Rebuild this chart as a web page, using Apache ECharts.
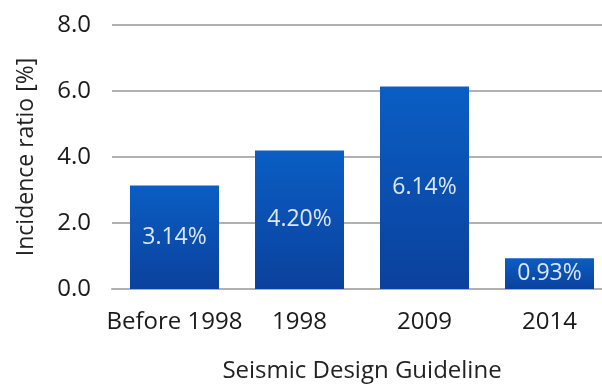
<!DOCTYPE html>
<html>
<head>
<meta charset="utf-8">
<script src="https://cdn.jsdelivr.net/npm/echarts@6/dist/echarts.min.js"></script>
<style>
  html, body { margin: 0; padding: 0; background: #fff; }
  #chart { width: 602px; height: 385px; }
</style>
</head>
<body>
<div id="chart"></div>
<script>
// Incidence ratio by seismic design guideline
const categories = ['Before 1998', '1998', '2009', '2014'];
const incidence = [3.14, 4.20, 6.14, 0.93];
const yTicks = { min: 0, max: 8, interval: 2 };

const font = '"Open Sans", Lato, sans-serif';
const chart = echarts.init(document.getElementById('chart'));

chart.setOption({
  animation: false,
  // the plot runs a little past the right edge, so the last band is cut
  grid: { left: 112, width: 500, top: 25, bottom: 96, outerBoundsMode: 'none', containLabel: false },
  xAxis: {
    type: 'category',
    data: categories,
    name: 'Seismic Design Guideline',
    nameLocation: 'middle',
    nameGap: 70,
    nameTextStyle: { fontFamily: font, fontSize: 24, color: '#222' },
    axisLine: { lineStyle: { color: '#b0b0b0', width: 2 } },
    axisTick: { show: false },
    axisLabel: { fontFamily: font, fontSize: 24, color: '#1a1a1a', margin: 21, interval: 0 }
  },
  yAxis: {
    type: 'value',
    min: yTicks.min,
    max: yTicks.max,
    interval: yTicks.interval,
    name: 'Incidence ratio [%]',
    nameLocation: 'middle',
    nameGap: 74,
    nameMoveOverlap: false,
    nameRotate: 90,
    nameTextStyle: { fontFamily: font, fontSize: 23, color: '#222' },
    axisLine: { show: false },
    axisTick: { show: false },
    axisLabel: {
      fontFamily: font, fontSize: 24, color: '#1a1a1a', margin: 21,
      formatter: v => v.toFixed(1)
    },
    splitLine: { lineStyle: { color: '#b0b0b0', width: 2 } }
  },
  series: [{
    type: 'bar',
    data: incidence,
    barWidth: 89,
    itemStyle: {
      color: new echarts.graphic.LinearGradient(0, 0, 0, 1, [
        { offset: 0, color: '#0a5ec4' },
        { offset: 1, color: '#0b419d' }
      ])
    },
    label: {
      show: true,
      position: 'inside',
      fontFamily: font,
      fontSize: 23,
      color: '#dce8f7',
      formatter: p => p.value.toFixed(2) + '%'
    }
  }]
});
</script>
</body>
</html>
